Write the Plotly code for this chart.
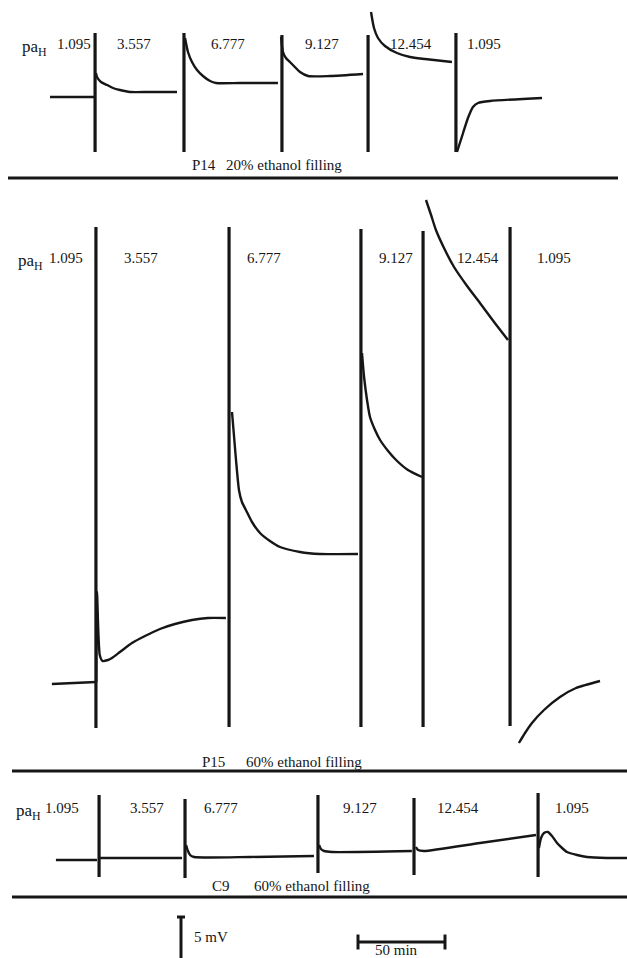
import plotly.graph_objects as go

# ---------------------------------------------------------------------------
# Electrode potential recordings (mV) versus time (min) for three electrodes
# taken through a sequence of buffer solutions of given pa_H.
# Each run is stored as one list of points per solution period.
# ---------------------------------------------------------------------------

pah_values = ["1.095", "3.557", "6.777", "9.127", "12.454", "1.095"]

# ---- P14, 20% ethanol filling -------------------------------------------
p14_change_t = [25.9, 77.0, 133.3, 182.8, 233.3]      # solution changes, min
p14_pen_hi = [6.4, 6.4, 6.2, 6.2, 6.4]                # pen excursion, mV
p14_pen_lo = [-5.5, -5.5, -5.5, -5.5, -5.5]
p14_seg_t = [
    [0.0, 25.3],
    [26.4, 27.0, 29.3, 32.8, 36.2, 40.2, 46.0, 57.5, 73.0],
    [77.6, 79.3, 81.6, 84.5, 87.9, 92.0, 95.4, 109.2, 131.0],
    [132.8, 133.9, 135.6, 137.9, 143.7, 148.3, 160.9, 179.9],
    [184.5, 186.2, 188.5, 192.5, 199.4, 206.9, 215.5, 231.0],
    [233.9, 237.4, 240.2, 243.1, 246.0, 252.9, 282.8],
]
p14_seg_mv = [
    [0.0, 0.0],
    [2.4, 2.0, 1.5, 1.2, 0.9, 0.7, 0.5, 0.5, 0.5],
    [5.9, 4.5, 3.5, 2.7, 2.1, 1.6, 1.4, 1.4, 1.4],
    [6.0, 4.5, 3.9, 3.5, 2.5, 2.1, 2.1, 2.3],
    [8.5, 6.9, 5.9, 5.1, 4.4, 4.0, 3.8, 3.5],
    [-5.5, -3.6, -2.1, -1.0, -0.6, -0.4, -0.1],
]

# ---- P15, 60% ethanol filling -------------------------------------------
p15_change_t = [26.4, 102.9, 178.7, 214.4, 264.4]
p15_pen_hi = [45.7, 45.7, 45.5, 45.3, 45.7]
p15_pen_lo = [-4.4, -4.3, -4.3, -4.3, -4.2]
p15_seg_t = [
    [1.1, 26.4],
    [26.6, 27.0, 28.6, 30.2, 33.3, 35.6, 40.2, 47.1, 54.6, 63.2, 71.8, 81.6, 90.8, 101.1],
    [104.6, 106.9, 108.6, 110.3, 112.6, 116.1, 120.7, 126.4, 132.2, 143.7, 155.2, 177.0],
    [179.3, 180.5, 182.2, 183.9, 186.8, 189.7, 194.3, 198.9, 205.7, 213.8],
    [216.1, 219.0, 221.8, 227.0, 232.2, 239.7, 247.1, 255.2, 263.2],
    [269.5, 273.0, 277.0, 283.9, 293.1, 302.3, 316.1],
]
p15_seg_mv = [
    [0.0, 0.2],
    [0.2, 9.2, 2.9, 2.3, 2.4, 2.6, 3.2, 4.1, 4.8, 5.5, 6.0, 6.4, 6.6, 6.6],
    [27.2, 22.4, 19.4, 18.2, 17.4, 16.2, 15.1, 14.3, 13.7, 13.2, 13.0, 13.0],
    [33.1, 30.7, 28.4, 26.7, 25.4, 24.4, 23.3, 22.4, 21.4, 20.7],
    [48.4, 46.9, 45.4, 43.4, 41.7, 39.8, 38.1, 36.2, 34.4],
    [-5.9, -4.9, -3.9, -2.6, -1.3, -0.4, 0.3],
]

# ---- C9, 60% ethanol filling --------------------------------------------
c9_change_t = [28.2, 77.6, 154.0, 209.2, 280.5]
c9_pen_hi = [6.5, 6.1, 6.5, 6.2, 6.7]
c9_pen_lo = [-1.7, -1.8, -1.3, -1.5, -1.7]
c9_seg_t = [
    [3.4, 27.0],
    [28.7, 75.9],
    [78.2, 79.3, 80.5, 82.8, 114.9, 151.7],
    [154.6, 155.7, 157.5, 162.1, 208.0],
    [210.3, 211.5, 214.9, 247.1, 279.3],
    [281.0, 282.2, 283.9, 286.2, 288.5, 291.4, 294.3, 297.1, 302.9, 308.6, 320.1, 331.6],
]
c9_seg_mv = [
    [0.0, 0.0],
    [0.2, 0.2],
    [1.5, 0.9, 0.5, 0.3, 0.3, 0.4],
    [1.5, 1.1, 0.9, 0.8, 0.9],
    [1.3, 1.0, 0.9, 1.7, 2.5],
    [1.2, 2.2, 2.7, 2.8, 2.4, 1.7, 1.2, 0.8, 0.5, 0.3, 0.2, 0.2],
]

# calibration bars
scale_mv = 5      # mV
scale_min = 50    # min

# ---------------------------------------------------------------------------
# Layout: one shared time axis, one potential axis per run (same mV scale)
# ---------------------------------------------------------------------------
W, H = 627, 958
PX_PER_MIN = 1.74
PX_PER_MV = 10.0
X_LEFT_PX = 50                       # pixel column of t = 0
X_RANGE = [-X_LEFT_PX / PX_PER_MIN, (W - X_LEFT_PX) / PX_PER_MIN]

INK = "#161616"
SERIF = "Liberation Serif, Times New Roman, serif"

runs = [
    dict(name="P14", filling="20% ethanol filling", top=0, bottom=178, zero=97,
         change_t=p14_change_t, hi=p14_pen_hi, lo=p14_pen_lo,
         seg_t=p14_seg_t, seg_mv=p14_seg_mv,
         label_t=[13.8, 48.3, 102.3, 156.3, 207.5, 249.4], label_px=44, pah_px=20,
         cap_px=165, name_px=190, fill_px=224),
    dict(name="P15", filling="60% ethanol filling", top=178, bottom=771, zero=684,
         change_t=p15_change_t, hi=p15_pen_hi, lo=p15_pen_lo,
         seg_t=p15_seg_t, seg_mv=p15_seg_mv,
         label_t=[9.2, 52.3, 123.0, 198.9, 246.0, 289.7], label_px=258, pah_px=16,
         cap_px=762, name_px=200, fill_px=244),
    dict(name="C9", filling="60% ethanol filling", top=771, bottom=897, zero=860,
         change_t=c9_change_t, hi=c9_pen_hi, lo=c9_pen_lo,
         seg_t=c9_seg_t, seg_mv=c9_seg_mv,
         label_t=[6.9, 55.7, 98.3, 178.2, 234.5, 300.0], label_px=808, pah_px=14,
         cap_px=886, name_px=210, fill_px=252),
]
SEPARATORS = [(178, 8, 618), (771, 12, 627), (897, 12, 627)]
BAR_TOP, BAR_BOTTOM = 897, H


def px_to_t(px):
    return (px - X_LEFT_PX) / PX_PER_MIN


fig = go.Figure()
layout_axes = {}
annotations = []

for i, run in enumerate(runs):
    yname = "y" if i == 0 else f"y{i + 1}"
    axkey = "yaxis" if i == 0 else f"yaxis{i + 1}"
    z = run["zero"]
    layout_axes[axkey] = dict(
        domain=[1 - run["bottom"] / H, 1 - run["top"] / H],
        range=[(z - run["bottom"]) / PX_PER_MV, (z - run["top"]) / PX_PER_MV],
        visible=False, fixedrange=True, anchor="x",
    )

    # pen deflections at each change of solution
    px_, py_ = [], []
    for t, lo, hi in zip(run["change_t"], run["lo"], run["hi"]):
        px_ += [t, t, None]
        py_ += [lo, hi, None]
    fig.add_trace(go.Scatter(x=px_, y=py_, yaxis=yname, mode="lines",
                             line=dict(color=INK, width=3.2),
                             hoverinfo="skip", showlegend=False))

    # potential record, one segment per solution
    tx, ty = [], []
    for ts, vs in zip(run["seg_t"], run["seg_mv"]):
        tx += ts + [None]
        ty += vs + [None]
    fig.add_trace(go.Scatter(x=tx, y=ty, yaxis=yname, mode="lines",
                             line=dict(color=INK, width=2.4, shape="spline", smoothing=0.6),
                             connectgaps=False, hoverinfo="skip", showlegend=False))

    yref = yname
    label_mv = (z - run["label_px"]) / PX_PER_MV
    annotations.append(dict(x=px_to_t(run["pah_px"]), y=label_mv, xref="x", yref=yref,
                            text="pa<sub>H</sub>", showarrow=False, xanchor="left",
                            yanchor="middle", yshift=-4,
                            font=dict(family=SERIF, size=17, color=INK)))
    for t, lab in zip(run["label_t"], pah_values):
        annotations.append(dict(x=t, y=label_mv, xref="x", yref=yref, text=lab,
                                showarrow=False, xanchor="center", yanchor="middle",
                                font=dict(family=SERIF, size=15, color=INK)))
    cap_mv = (z - run["cap_px"]) / PX_PER_MV
    annotations.append(dict(x=px_to_t(run["name_px"]), y=cap_mv, xref="x", yref=yref,
                            text=run["name"], showarrow=False, xanchor="left",
                            yanchor="middle", font=dict(family=SERIF, size=15, color=INK)))
    annotations.append(dict(x=px_to_t(run["fill_px"]), y=cap_mv, xref="x", yref=yref,
                            text=run["filling"], showarrow=False, xanchor="left",
                            yanchor="middle", font=dict(family=SERIF, size=15, color=INK)))

# calibration bars on their own strip (same mV and min scale)
layout_axes["yaxis4"] = dict(domain=[0, 1 - BAR_TOP / H],
                             range=[(BAR_TOP - BAR_BOTTOM) / PX_PER_MV, 0],
                             visible=False, fixedrange=True, anchor="x")
mv_x = px_to_t(181)
mv_top = -2.0
cap = 2.3
fig.add_trace(go.Scatter(
    x=[mv_x - cap, mv_x + cap, None, mv_x, mv_x],
    y=[mv_top, mv_top, None, mv_top, mv_top - scale_mv],
    yaxis="y4", mode="lines", line=dict(color=INK, width=3),
    hoverinfo="skip", showlegend=False))
min_x0 = px_to_t(358)
min_y = -4.5
fig.add_trace(go.Scatter(
    x=[min_x0, min_x0 + scale_min, None, min_x0, min_x0, None,
       min_x0 + scale_min, min_x0 + scale_min],
    y=[min_y, min_y, None, min_y + 0.75, min_y - 0.75, None, min_y + 0.75, min_y - 0.75],
    yaxis="y4", mode="lines", line=dict(color=INK, width=3),
    hoverinfo="skip", showlegend=False))
annotations.append(dict(x=mv_x + 6.5, y=-4.0, xref="x", yref="y4", text=f"{scale_mv} mV",
                        showarrow=False, xanchor="left", yanchor="middle",
                        font=dict(family=SERIF, size=15, color=INK)))
annotations.append(dict(x=min_x0 + scale_min / 2 - 3, y=-5.25, xref="x", yref="y4",
                        text=f"{scale_min} min", showarrow=False, xanchor="center",
                        yanchor="middle", font=dict(family=SERIF, size=15, color=INK)))

shapes = [dict(type="line", xref="paper", yref="paper",
               x0=x0 / W, x1=x1 / W, y0=1 - y / H, y1=1 - y / H,
               line=dict(color=INK, width=3))
          for y, x0, x1 in SEPARATORS]

fig.update_layout(
    width=W, height=H,
    margin=dict(l=0, r=0, t=0, b=0),
    paper_bgcolor="white", plot_bgcolor="white",
    xaxis=dict(range=X_RANGE, visible=False, fixedrange=True, domain=[0, 1]),
    annotations=annotations, shapes=shapes, showlegend=False,
    **layout_axes,
)

fig.write_html("out.html", config=dict(displayModeBar=False))
